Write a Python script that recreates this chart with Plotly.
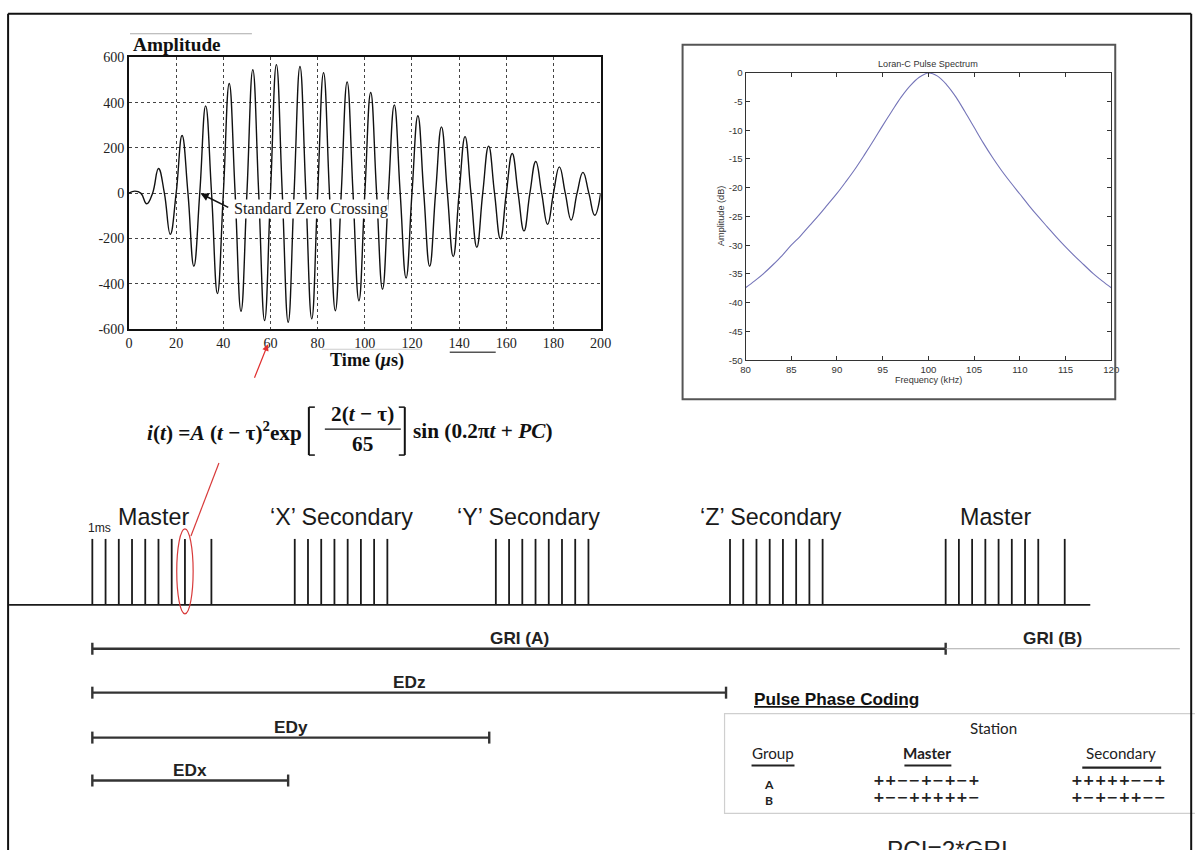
import plotly.graph_objects as go

# Page -> photo mapping observed for this viewer: photo = A + S * page
SX, AX = 0.9875, 4.9
SY, AY = 0.983, 6.2
W, H = 1207, 859          # page/figure size (body margin removed below)
FSC = 1.0 / SX            # keep text sizes as they appear in the photo

# ---------------- data ----------------
# Loran-C pulse (amplitude vs time in microseconds)
crossing_t = [0, 5, 10, 15, 20, 25, 30, 35, 40, 45, 50, 55, 60, 65, 70, 75, 80, 85, 90, 95,
              100, 105, 110, 115, 120, 125, 130, 135, 140, 145, 150, 155, 160, 165, 170, 175,
              180, 185, 190, 195, 200]
extrema_t = [2.5, 7.5, 12.5, 17.5, 22.5, 27.5, 32.5, 37.5, 42.5, 47.5, 52.5, 57.5, 62.5, 67.5,
             72.5, 77.5, 82.5, 87.5, 92.5, 97.5, 102.5, 107.5, 112.5, 117.5, 122.5, 127.5,
             132.5, 137.5, 142.5, 147.5, 152.5, 157.5, 162.5, 167.5, 172.5, 177.5, 182.5,
             187.5, 192.5, 197.5]
extrema_amp = [9, -47, 109, -182, 255, -323, 386, -444, 485, -522, 546, -563, 568, -571,
               560, -556, 533, -520, 492, -476, 445, -425, 390, -375, 342, -323, 293, -280,
               250, -239, 208, -202, 175, -167, 140, -138, 116, -119, 92, -98]
wave_xticks = [0, 20, 40, 60, 80, 100, 120, 140, 160, 180, 200]
wave_yticks = [-600, -400, -200, 0, 200, 400, 600]
zero_crossing_t = 30

# Loran-C pulse spectrum
spec_freq = [80, 81, 82, 83, 84, 85, 86, 87, 88, 89, 90, 91, 92, 93, 94, 95, 96, 97, 98, 99,
             100, 101, 102, 103, 104, 105, 106, 107, 108, 109, 110, 111, 112, 113, 114, 115,
             116, 117, 118, 119, 120]
spec_db = [-37.4, -36.2, -34.9, -33.4, -31.8, -30.0, -28.4, -26.6, -24.8, -22.9, -21.0,
           -18.9, -16.7, -14.3, -11.8, -9.2, -6.7, -4.3, -2.3, -0.8, -0.05, -0.6, -2.1,
           -4.2, -6.8, -9.5, -12.2, -14.7, -17.0, -19.1, -21.1, -23.1, -25.0, -26.8, -28.6,
           -30.3, -31.9, -33.4, -34.9, -36.2, -37.4]
spec_xticks = [80, 85, 90, 95, 100, 105, 110, 115, 120]
spec_yticks = [0, -5, -10, -15, -20, -25, -30, -35, -40, -45, -50]

# Pulse train (time in ms)
master_offsets = [0, 1, 2, 3, 4, 5, 6, 7, 9]
secondary_offsets = [0, 1, 2, 3, 4, 5, 6, 7]
station_labels = ["Master", "\u2018X\u2019 Secondary", "\u2018Y\u2019 Secondary",
                  "\u2018Z\u2019 Secondary", "Master"]
station_starts = [0.0, 15.3, 30.5, 48.2, 64.5]
station_is_master = [True, False, False, False, True]
interval_labels = ["GRI (A)", "EDz", "EDy", "EDx"]
interval_ends = [64.5, 47.9, 30.0, 14.8]
gri_b_label = "GRI (B)"
gri_b_end = 82.2
marked_pulse = 7

# Pulse phase coding table
table_groups = ["A", "B"]
table_master = ["++\u2212\u2212+\u2212+\u2212+", "+\u2212\u2212+++++\u2212"]
table_secondary = ["+++++\u2212\u2212+", "+\u2212+\u2212++\u2212\u2212"]

# ---------------- helpers (photo pixel -> paper) ----------------
def px(x):
    return ((x - AX) / SX) / W


def py(y):
    return 1 - ((y - AY) / SY) / H


SERIF = "Liberation Serif, Times New Roman, serif"
SANS = "Liberation Sans, Arial, sans-serif"
NARROW = "Liberation Sans Narrow, Arial Narrow, Liberation Sans, Arial, sans-serif"
ROUND = "Lato, Noto Sans, sans-serif"

MS0, MS_PX = 92.3, 13.24  # diagram scale (photo pixel of t=0, pixels per ms)

fig = go.Figure()
annotations = []
shapes = []


def ann(x, y, text, size, family=SANS, color="#111", xanchor="center", yanchor="middle", **kw):
    d = dict(x=px(x), y=py(y), xref="paper", yref="paper", text=text, showarrow=False,
             xanchor=xanchor, yanchor=yanchor,
             font=dict(size=size * FSC, family=family, color=color))
    d.update(kw)
    annotations.append(d)


def pline(x0, y0, x1, y1, color="#000", width=1.0):
    shapes.append(dict(type="line", xref="paper", yref="paper", x0=px(x0), y0=py(y0),
                       x1=px(x1), y1=py(y1), line=dict(color=color, width=width)))


# ---------------- waveform ----------------
pts = sorted([(t, 0) for t in crossing_t] + list(zip(extrema_t, extrema_amp)))
fig.add_trace(go.Scatter(x=[p[0] for p in pts], y=[p[1] for p in pts], mode="lines",
                         line=dict(color="#111", width=1.4, shape="spline", smoothing=1.3),
                         xaxis="x", yaxis="y", hoverinfo="skip", showlegend=False))

# ---------------- spectrum ----------------
fig.add_trace(go.Scatter(x=spec_freq, y=spec_db, mode="lines",
                         line=dict(color="#7474b8", width=1.1, shape="spline", smoothing=1.0),
                         xaxis="x2", yaxis="y2", hoverinfo="skip", showlegend=False))

# ---------------- pulse train ----------------
BASE_Y, TOP_Y = 604, 538
pxs, pys = [], []
for s, is_m in zip(station_starts, station_is_master):
    for o in (master_offsets if is_m else secondary_offsets):
        pxs += [s + o, s + o, None]
        pys += [BASE_Y, TOP_Y, None]
fig.add_trace(go.Scatter(x=pxs, y=pys, mode="lines", line=dict(color="#1a1a1a", width=1.8),
                         xaxis="x3", yaxis="y3", hoverinfo="skip", showlegend=False))

label_shift = [2, 0, -14, -5, -10]
for lab, s, is_m, sh in zip(station_labels, station_starts, station_is_master, label_shift):
    c = s + (4.5 if is_m else 3.5)
    annotations.append(dict(x=c, y=516, xref="x3", yref="y3", text=lab, showarrow=False,
                            xanchor="center", yanchor="middle", xshift=sh,
                            font=dict(size=23 * FSC, family=SANS, color="#1a1a1a")))

# intervals
bar_rows = [648, 692, 737, 780]
for lab, end, by in zip(interval_labels, interval_ends, bar_rows):
    fig.add_trace(go.Scatter(x=[0, end, None, 0, 0, None, end, end],
                             y=[by, by, None, by - 6, by + 6, None, by - 6, by + 6],
                             mode="lines", line=dict(color="#333", width=2.4),
                             xaxis="x3", yaxis="y3", hoverinfo="skip", showlegend=False))
    annotations.append(dict(x=end / 2, y=by - 11, xref="x3", yref="y3", text="<b>%s</b>" % lab,
                            showarrow=False, xanchor="center", yanchor="middle",
                            font=dict(size=17 * FSC, family=NARROW, color="#222")))
fig.add_trace(go.Scatter(x=[interval_ends[0], gri_b_end], y=[bar_rows[0], bar_rows[0]],
                         mode="lines", line=dict(color="#aaa", width=1.2),
                         xaxis="x3", yaxis="y3", hoverinfo="skip", showlegend=False))
annotations.append(dict(x=(interval_ends[0] + gri_b_end) / 2 - 0.8, y=bar_rows[0] - 11,
                        xref="x3", yref="y3", text="<b>%s</b>" % gri_b_label, showarrow=False,
                        xanchor="center", yanchor="middle",
                        font=dict(size=17 * FSC, family=NARROW, color="#222")))

# baseline
pline(9, BASE_Y, 1091, BASE_Y, "#1a1a1a", 1.8)
ann(99.5, 527, "1ms", 12, SANS, "#222")

# red ellipse around one pulse and connector
shapes.append(dict(type="circle", xref="x3", yref="y3", x0=marked_pulse - 0.62,
                   x1=marked_pulse + 0.62, y0=528, y1=613,
                   line=dict(color="#d83a3a", width=1.2)))
pline(191, 535, 219, 462, "#d83a3a", 1.2)

# red arrow to the waveform time axis
annotations.append(dict(x=px(268), y=py(343), xref="paper", yref="paper", text="",
                        showarrow=True, ax=-14, ay=35, arrowcolor="#e03030", arrowwidth=1.2,
                        arrowhead=2, arrowsize=1.1, standoff=0))

# zero crossing arrow
annotations.append(dict(x=zero_crossing_t, y=0, xref="x", yref="y", text="", showarrow=True,
                        ax=30, ay=15, arrowcolor="#111", arrowwidth=1.6, arrowhead=2,
                        arrowsize=1.0, standoff=1))
ann(233, 208, "Standard Zero Crossing", 16, SERIF, "#222", xanchor="left",
    bgcolor="white", borderpad=0)

# waveform titles
ann(131, 43, "<b>Amplitude</b>", 19, SERIF, "#111", xanchor="left")
ann(367, 359, "<b>Time (<i>\u03bc</i>s)</b>", 18, SERIF, "#111")
pline(130, 32, 252, 32, "#aaa", 1.2)
pline(322, 348, 420, 348, "#ccc", 1.2)
pline(450, 351, 496, 351, "#555", 1.5)

# formula
FS = 21
ann(145, 430, "<b><i>i</i>(<i>t</i>) =<i>A</i> (<i>t</i> \u2212 \u03c4)<sup>2</sup>exp</b>",
    FS, SERIF, "#111", xanchor="left")
ann(363, 413, "<b>2(<i>t</i> \u2212 \u03c4)</b>", FS, SERIF, "#111")
ann(363, 443, "<b>65</b>", FS, SERIF, "#111")
pline(325, 428, 401, 428, "#111", 1.3)
for xb, dx in ((309, 6), (405, -6)):
    pline(xb, 406, xb, 454, "#111", 2.0)
    pline(xb, 406, xb + dx, 406, "#111", 1.5)
    pline(xb, 454, xb + dx, 454, "#111", 1.5)
ann(411, 430, "<b>sin (0.2\u03c0<i>t</i> + <i>PC</i>)</b>", FS, SERIF, "#111", xanchor="left")

# spectrum titles and box
shapes.append(dict(type="rect", xref="paper", yref="paper", x0=px(683), x1=px(1116),
                   y0=py(43), y1=py(398), line=dict(color="#555", width=2)))
ann(929, 62, "Loran-C Pulse Spectrum", 9, SANS, "#333")
ann(929, 379, "Frequency (kHz)", 9, SANS, "#333")
ann(722, 215, "Amplitude (dB)", 9, SANS, "#333", textangle=-90)

# pulse phase coding table
ann(752, 698, "<b><u>Pulse Phase Coding</u></b>", 17, SANS, "#111", xanchor="left")
shapes.append(dict(type="rect", xref="paper", yref="paper", x0=px(725), x1=px(1215),
                   y0=py(713), y1=py(813), line=dict(color="#cfcfcf", width=1.2)))
ann(994, 727, "Station", 15, ROUND, "#222")
ann(773, 752, "Group", 15, ROUND, "#222")
ann(928, 752, "<b>Master</b>", 15, ROUND, "#222")
ann(1122, 752, "Secondary", 15, ROUND, "#222")
pline(752, 765, 795, 765, "#222", 2)
pline(905, 765, 952, 765, "#222", 2)
pline(1083, 767, 1162, 767, "#222", 2.2)
for g, yy in zip(table_groups, [784, 800]):
    ann(769, yy, "<b>%s</b>" % g, 12, ROUND, "#222", borderpad=0)
for m, yy in zip(table_master, [779, 797]):
    ann(927, yy, "<b>%s</b>" % m, 14, "DejaVu Sans", "#222", borderpad=0)
for s, yy in zip(table_secondary, [779, 797]):
    ann(1119, yy, "<b>%s</b>" % s, 14, "DejaVu Sans", "#222", borderpad=0)
ann(948, 849, "PCI=2*GRI", 24, SANS, "#222")

# outer frame (left, top, right edges)
pline(8, 12, 8, 870, "#111", 2)
pline(8, 12, 1192, 12, "#111", 2)
pline(1192, 12, 1192, 870, "#111", 2)

# ---------------- layout ----------------
fig.update_layout(
    width=W, height=H, margin=dict(l=0, r=0, t=0, b=0),
    paper_bgcolor="white", plot_bgcolor="rgba(0,0,0,0)", showlegend=False,
    annotations=annotations, shapes=shapes,
    xaxis=dict(domain=[px(129), px(601)], range=[0, 200], anchor="y",
               tickvals=wave_xticks, ticktext=[str(v) for v in wave_xticks], ticks="",
               showgrid=True, gridcolor="#444", griddash="dot", gridwidth=1,
               showline=True, mirror=True, linecolor="#111", linewidth=1.6, zeroline=False,
               tickfont=dict(family=SERIF, size=14 * FSC, color="#222")),
    yaxis=dict(domain=[py(327.6), py(55.7)], range=[-600, 600], anchor="x",
               tickvals=wave_yticks, ticktext=[str(v) for v in wave_yticks], ticks="",
               showgrid=True, gridcolor="#444", griddash="dot", gridwidth=1,
               showline=True, mirror=True, linecolor="#111", linewidth=1.6, zeroline=False,
               tickfont=dict(family=SERIF, size=14 * FSC, color="#222")),
    xaxis2=dict(domain=[px(746), px(1112)], range=[80, 120], anchor="y2",
                tickvals=spec_xticks, ticktext=[str(v) for v in spec_xticks],
                ticks="inside", ticklen=4, tickcolor="#333", showgrid=False, zeroline=False,
                showline=True, mirror="ticks", linecolor="#333", linewidth=1,
                tickfont=dict(family=SANS, size=9.5 * FSC, color="#333")),
    yaxis2=dict(domain=[py(359), py(71)], range=[-50, 0], anchor="x2",
                tickvals=spec_yticks, ticktext=[str(v) for v in spec_yticks],
                ticks="inside", ticklen=4, tickcolor="#333", showgrid=False, zeroline=False,
                showline=True, mirror="ticks", linecolor="#333", linewidth=1,
                tickfont=dict(family=SANS, size=9.5 * FSC, color="#333")),
    xaxis3=dict(domain=[0, 1], range=[(AX - MS0) / MS_PX, (AX + SX * W - MS0) / MS_PX],
                anchor="y3", visible=False, showgrid=False, zeroline=False),
    yaxis3=dict(domain=[0, 1], range=[AY + SY * H, AY], anchor="x3", visible=False,
                showgrid=False, zeroline=False),
)

fig.write_html("out.html", config={"displayModeBar": False},
               post_script="document.body.style.margin='0';document.body.style.overflow='hidden';")
